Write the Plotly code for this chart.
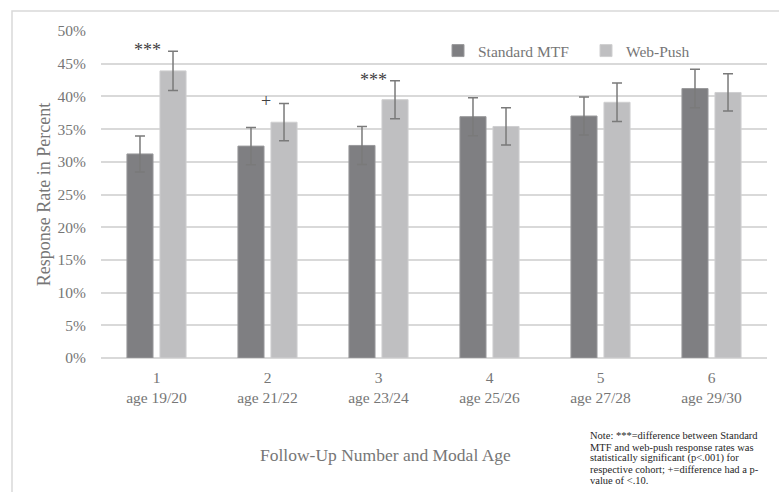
import plotly.graph_objects as go

follow_up = ["1", "2", "3", "4", "5", "6"]
modal_age = ["age 19/20", "age 21/22", "age 23/24", "age 25/26", "age 27/28", "age 29/30"]
standard_mtf = [31.2, 32.4, 32.5, 36.9, 37.0, 41.2]
standard_err = [2.75, 2.85, 2.9, 2.9, 2.9, 2.95]
web_push = [43.9, 36.05, 39.5, 35.4, 39.1, 40.6]
web_err = [3.0, 2.85, 2.9, 2.85, 2.95, 2.85]
sig_marks = ["***", "+", "***", "", "", ""]
sig_y = [47.1, 39.3, 42.5, None, None, None]
sig_xshift = [-9, -2, -5, 0, 0, 0]
y_ticks = [0, 5, 10, 15, 20, 25, 30, 35, 40, 45, 50]
y_tick_text = [f"{v}%" for v in y_ticks]
note_lines = [
    "Note: ***=difference between Standard",
    "MTF and web-push response rates was",
    "statistically significant (p<.001) for",
    "respective cohort; +=difference had a p-",
    "value of <.10.",
]

cats = [f"{a}<br>{b}" for a, b in zip(follow_up, modal_age)]
FONT = "Liberation Serif, Times New Roman, serif"
TXT = "#767676"

fig = go.Figure()
fig.add_trace(go.Bar(
    name="Standard MTF", x=cats, y=standard_mtf,
    marker=dict(color="#7f7f82", line=dict(color="#9a9a9c", width=1)),
    error_y=dict(type="data", array=standard_err, color="#7a7a7a", thickness=1.5, width=5),
))
fig.add_trace(go.Bar(
    name="Web-Push", x=cats, y=web_push,
    marker=dict(color="#bfbfc1", line=dict(color="#cfcfd0", width=1)),
    error_y=dict(type="data", array=web_err, color="#7a7a7a", thickness=1.5, width=5),
))

annotations = []
for c, m, yv, xs in zip(cats, sig_marks, sig_y, sig_xshift):
    if m:
        annotations.append(dict(x=c, y=yv, xref="x", yref="y", text=m, showarrow=False,
                                xshift=xs, font=dict(family=FONT, size=18, color="#404040")))

note_y0 = 436
for i, line in enumerate(note_lines):
    yp = note_y0 + i * 11
    annotations.append(dict(xref="paper", yref="paper", x=(588 - 101) / 666,
                            y=1 - (yp - 31) / 327, xanchor="left", yanchor="middle",
                            text=line, showarrow=False,
                            font=dict(family=FONT, size=10.5, color="#262626")))

# x-axis title (positioned left of plot centre as in the original)
annotations.append(dict(xref="paper", yref="paper", x=(385 - 101) / 666,
                        y=1 - (455 - 31) / 327, xanchor="center", yanchor="middle",
                        text="Follow-Up Number and Modal Age", showarrow=False,
                        font=dict(family=FONT, size=17.5, color=TXT)))

fig.update_layout(
    width=779, height=492,
    margin=dict(l=101, r=12, t=31, b=134),
    paper_bgcolor="white", plot_bgcolor="white",
    barmode="group", bargap=0.405, bargroupgap=0.21,
    font=dict(family=FONT, color=TXT),
    legend=dict(orientation="h", x=(438 - 101) / 666, y=1 - (51 - 31) / 327,
                xanchor="left", yanchor="middle", font=dict(family=FONT, size=15.5, color=TXT),
                bgcolor="rgba(0,0,0,0)", entrywidth=103, entrywidthmode="pixels"),
    showlegend=True,
    annotations=annotations,
    shapes=[dict(type="rect", xref="paper", yref="paper",
                 x0=(12 - 101) / 666, x1=1.2, y0=-0.6, y1=1 + (31 - 11) / 327,
                 line=dict(color="#d9d9d9", width=1.5), layer="below")],
)
fig.update_xaxes(
    showgrid=False, showline=False, zeroline=False, ticklabelstandoff=8,
    tickfont=dict(family=FONT, size=15.5, color=TXT),
    automargin=False,
)
fig.update_yaxes(
    range=[0, 50], tickvals=y_ticks, ticktext=y_tick_text,
    showgrid=True, gridcolor="#d9d9d9", gridwidth=1.5,
    zeroline=True, zerolinecolor="#d9d9d9", zerolinewidth=1.5,
    showline=False, ticklabelstandoff=14,
    tickfont=dict(family=FONT, size=15.5, color=TXT),
    title=dict(text="Response Rate in Percent", font=dict(family=FONT, size=18, color=TXT), standoff=2),
    automargin=False,
)
fig.write_html("out.html", config={"displayModeBar": False},
               post_script="document.body.style.margin='0';document.body.style.overflow='hidden';")
